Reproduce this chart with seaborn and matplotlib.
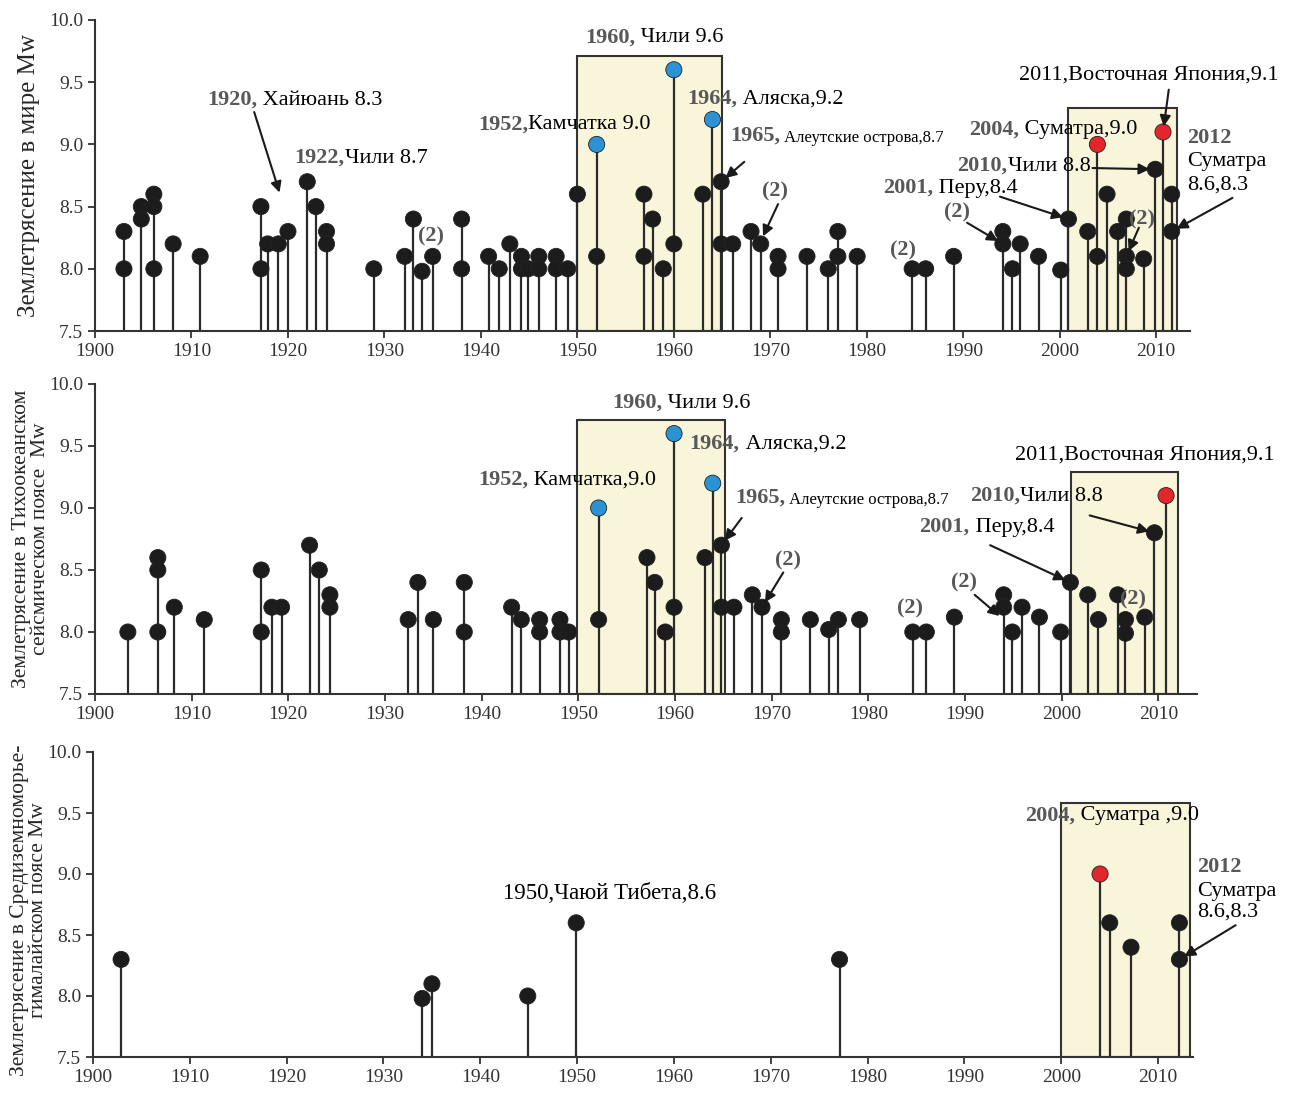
import matplotlib
matplotlib.use("Agg")
import matplotlib.pyplot as plt
import seaborn as sns
import pandas as pd

# ---- World: year of event, magnitude Mw ----
world_years = [1903.0, 1903.0, 1904.8, 1904.8, 1906.1, 1906.1, 1906.1, 1908.1, 1910.9,
               1917.2, 1917.2, 1917.9, 1919.0, 1920.0, 1922.0, 1922.9, 1924.0, 1924.0,
               1928.9, 1932.1, 1933.0, 1933.9, 1935.0, 1938.0, 1938.0, 1940.8, 1941.9,
               1943.0, 1944.2, 1944.2, 1944.9, 1946.0, 1946.0, 1947.8, 1947.8, 1949.0,
               1950.0, 1952.0, 1952.0, 1956.9, 1956.9, 1957.8, 1958.9, 1960.0, 1960.0,
               1963.0, 1964.0, 1964.9, 1964.9, 1966.1, 1968.0, 1969.0, 1970.8, 1970.8,
               1973.8, 1976.0, 1977.0, 1977.0, 1979.0, 1984.7, 1986.1, 1989.0, 1994.1,
               1994.1, 1995.1, 1995.9, 1997.8, 2000.1, 2000.9, 2002.9, 2003.9, 2003.9,
               2004.9, 2006.0, 2006.9, 2006.9, 2006.9, 2008.7, 2009.9, 2010.7, 2011.6, 2011.6]
world_mw = [8.3, 8.0, 8.5, 8.4, 8.6, 8.5, 8.0, 8.2, 8.1,
            8.5, 8.0, 8.2, 8.2, 8.3, 8.7, 8.5, 8.3, 8.2,
            8.0, 8.1, 8.4, 7.98, 8.1, 8.4, 8.0, 8.1, 8.0,
            8.2, 8.1, 8.0, 8.0, 8.1, 8.0, 8.1, 8.0, 8.0,
            8.6, 9.0, 8.1, 8.6, 8.1, 8.4, 8.0, 9.6, 8.2,
            8.6, 9.2, 8.7, 8.2, 8.2, 8.3, 8.2, 8.1, 8.0,
            8.1, 8.0, 8.3, 8.1, 8.1, 8.0, 8.0, 8.1, 8.3,
            8.2, 8.0, 8.2, 8.1, 7.99, 8.4, 8.3, 9.0, 8.1,
            8.6, 8.3, 8.4, 8.1, 8.0, 8.08, 8.8, 9.1, 8.6, 8.3]

# ---- Pacific belt ----
pacific_years = [1903.4, 1906.5, 1906.5, 1906.5, 1908.2, 1911.3, 1917.2, 1917.2, 1918.3,
                 1919.3, 1922.2, 1923.2, 1924.3, 1924.3, 1932.4, 1933.4, 1935.0, 1938.2,
                 1938.2, 1943.1, 1944.1, 1946.0, 1946.0, 1948.1, 1948.1, 1949.0, 1952.1,
                 1952.1, 1957.1, 1957.9, 1959.0, 1959.9, 1959.9, 1963.1, 1963.9, 1964.8,
                 1964.8, 1966.1, 1968.0, 1969.0, 1971.0, 1971.0, 1974.0, 1975.9, 1976.9,
                 1979.1, 1984.6, 1986.0, 1988.9, 1994.0, 1994.0, 1994.9, 1995.9, 1997.7,
                 1999.9, 2000.9, 2002.7, 2003.8, 2005.8, 2006.6, 2006.6, 2008.6, 2009.6, 2010.8]
pacific_mw = [8.0, 8.6, 8.5, 8.0, 8.2, 8.1, 8.5, 8.0, 8.2,
              8.2, 8.7, 8.5, 8.3, 8.2, 8.1, 8.4, 8.1, 8.4,
              8.0, 8.2, 8.1, 8.1, 8.0, 8.1, 8.0, 8.0, 9.0,
              8.1, 8.6, 8.4, 8.0, 9.6, 8.2, 8.6, 9.2, 8.7,
              8.2, 8.2, 8.3, 8.2, 8.1, 8.0, 8.1, 8.02, 8.1,
              8.1, 8.0, 8.0, 8.12, 8.3, 8.2, 8.0, 8.2, 8.12,
              8.0, 8.4, 8.3, 8.1, 8.3, 8.1, 7.99, 8.12, 8.8, 9.1]

# ---- Mediterranean-Himalayan belt ----
medit_years = [1902.9, 1934.0, 1935.0, 1944.9, 1949.9, 1977.1, 2004.0, 2005.0, 2007.2, 2012.2, 2012.2]
medit_mw = [8.3, 7.98, 8.1, 8.0, 8.6, 8.3, 9.0, 8.6, 8.4, 8.6, 8.3]

x_ticks = [1900, 1910, 1920, 1930, 1940, 1950, 1960, 1970, 1980, 1990, 2000, 2010]
y_ticks = [7.5, 8.0, 8.5, 9.0, 9.5, 10.0]

palette = {"black": "#1c1c1c", "blue": "#2b93d3", "red": "#e3262b"}
BOX = "#f8f5da"
GREY = "#585858"
FS = 16

sns.set_style("ticks")
plt.rcParams["font.family"] = ["Liberation Serif", "DejaVu Serif"]

W, H = 1300, 1097
fig = plt.figure(figsize=(W / 100, H / 100), dpi=100)


def pos(left, right, top, bottom):
    return [left / W, 1 - bottom / H, (right - left) / W, (bottom - top) / H]


def stems(ax, years, mw, xmax):
    df = pd.DataFrame({"year": years, "mw": mw})
    df["kind"] = "black"
    df.loc[(df.mw >= 9.0) & (df.year < 1980), "kind"] = "blue"
    df.loc[(df.mw >= 9.0) & (df.year > 1980), "kind"] = "red"
    top = df.groupby("year")["mw"].max()
    ax.vlines(top.index, 7.5, top.values, color="#2a2a2a", lw=1.6, zorder=2)
    sns.scatterplot(data=df, x="year", y="mw", hue="kind", palette=palette, s=135,
                    edgecolor="#222222", linewidth=0.6, legend=False, zorder=3, ax=ax)
    ax.set_xlim(1900, xmax)
    ax.set_ylim(7.5, 10.0)
    ax.set_xticks(x_ticks)
    ax.set_yticks(y_ticks)
    ax.set_yticklabels([f"{v:.1f}" for v in y_ticks])
    ax.set_xlabel("")
    ax.tick_params(labelsize=14, length=5, width=1.3, colors="#333333")
    for s in ("left", "bottom"):
        ax.spines[s].set_linewidth(1.5)
        ax.spines[s].set_color("#333333")
    sns.despine(ax=ax)


def box(ax, x0, x1, ytop):
    ax.axvspan(x0, x1, ymin=0, ymax=(ytop - 7.5) / 2.5, facecolor=BOX,
               edgecolor="#333333", lw=1.5, zorder=0)


def note(ax, x, y, head, rest="", size=FS, rest_size=None, bold=True):
    t = ax.text(x, y, head, fontsize=size, fontweight="bold" if bold else "normal",
                color=GREY if bold else "black", va="center", ha="left", clip_on=False)
    if rest:
        ax.annotate(rest, xy=(1, 0), xycoords=t, va="bottom", ha="left",
                    fontsize=rest_size or size, color="black", annotation_clip=False)


def arrow(ax, tail, head):
    ax.annotate("", xy=head, xytext=tail, annotation_clip=False,
                arrowprops=dict(arrowstyle="-|>", color="#1a1a1a", lw=1.5,
                                mutation_scale=16, shrinkA=0, shrinkB=4))


# ---------------- top: world ----------------
ax1 = fig.add_axes(pos(95, 1190, 20, 331))
box(ax1, 1950.0, 1965.0, 9.71)
box(ax1, 2000.9, 2012.2, 9.29)
stems(ax1, world_years, world_mw, 2013.5)
ax1.set_ylabel("Землетрясение в мире Mw", fontsize=18)
ax1.yaxis.set_label_coords(-0.050, 0.5)

note(ax1, 1950.8, 9.86, "1960,", " Чили 9.6")
note(ax1, 1911.6, 9.36, "1920,", " Хайюань 8.3")
arrow(ax1, (1916.5, 9.26), (1919.3, 8.57))
note(ax1, 1920.7, 8.89, "1922,", "Чили 8.7")
note(ax1, 1939.7, 9.16, "1952,", "Камчатка 9.0")
note(ax1, 1961.4, 9.37, "1964,", " Аляска,9.2")
note(ax1, 1965.8, 9.07, "1965,", " Алеутские острова,8.7", rest_size=12)
arrow(ax1, (1967.3, 8.86), (1964.9, 8.7))
note(ax1, 1969.1, 8.62, "(2)")
arrow(ax1, (1970.8, 8.52), (1969.0, 8.22))
note(ax1, 1933.5, 8.26, "(2)")
note(ax1, 1982.4, 8.15, "(2)")
note(ax1, 1995.8, 9.56, "2011,Восточная Япония,9.1", bold=False)
arrow(ax1, (2011.3, 9.44), (2010.7, 9.1))
note(ax1, 1990.6, 9.12, "2004,", " Суматра,9.0")
note(ax1, 1989.4, 8.83, "2010,", "Чили 8.8")
arrow(ax1, (2003.4, 8.81), (2009.9, 8.8))
note(ax1, 2013.2, 9.05, "2012")
note(ax1, 2013.2, 8.86, "Суматра", bold=False)
note(ax1, 2013.2, 8.67, "8.6,8.3", bold=False)
arrow(ax1, (2017.9, 8.57), (2011.6, 8.3))
note(ax1, 1981.7, 8.65, "2001,", " Перу,8.4")
arrow(ax1, (1993.8, 8.58), (2000.9, 8.4))
note(ax1, 1988.0, 8.45, "(2)")
arrow(ax1, (1990.4, 8.37), (1994.1, 8.2))
note(ax1, 2007.2, 8.40, "(2)")
arrow(ax1, (2008.2, 8.33), (2006.9, 8.1))

# ---------------- middle: Pacific ----------------
ax2 = fig.add_axes(pos(95, 1197, 384, 694))
box(ax2, 1949.9, 1965.2, 9.71)
box(ax2, 2001.0, 2012.0, 9.29)
stems(ax2, pacific_years, pacific_mw, 2014.0)
ax2.set_ylabel("Землетрясение в Тихоокеанском\nсейсмическом поясе  Mw", fontsize=15.5,
               linespacing=1.0)
ax2.yaxis.set_label_coords(-0.041, 0.5)

note(ax2, 1953.5, 9.85, "1960,", " Чили 9.6")
note(ax2, 1939.6, 9.23, "1952,", " Камчатка,9.0")
note(ax2, 1961.5, 9.52, "1964,", " Аляска,9.2")
note(ax2, 1966.2, 9.08, "1965,", " Алеутские острова,8.7", rest_size=12)
arrow(ax2, (1966.9, 8.92), (1964.8, 8.7))
note(ax2, 1970.3, 8.58, "(2)")
arrow(ax2, (1971.2, 8.48), (1969.0, 8.2))
note(ax2, 1995.2, 9.43, "2011,Восточная Япония,9.1", bold=False)
note(ax2, 1990.5, 9.10, "2010,", "Чили 8.8")
arrow(ax2, (2002.9, 8.94), (2009.6, 8.8))
note(ax2, 1985.3, 8.85, "2001,", " Перу,8.4")
arrow(ax2, (1992.6, 8.70), (2000.9, 8.4))
note(ax2, 1988.5, 8.40, "(2)")
arrow(ax2, (1991.0, 8.30), (1994.0, 8.1))
note(ax2, 1983.0, 8.19, "(2)")
note(ax2, 2006.0, 8.26, "(2)")

# ---------------- bottom: Mediterranean-Himalayan ----------------
ax3 = fig.add_axes(pos(93, 1193, 752, 1057))
box(ax3, 2000.0, 2013.3, 9.58)
stems(ax3, medit_years, medit_mw, 2013.6)
ax3.set_ylabel("Землетрясение в Средиземноморье-\nгималайском поясе Mw", fontsize=15.5,
               linespacing=1.0)
ax3.yaxis.set_label_coords(-0.041, 0.48)

note(ax3, 1996.3, 9.48, "2004,", " Суматра ,9.0")
note(ax3, 1942.3, 8.84, "1950,Чаюй Тибета,8.6", bold=False, size=16.5)
note(ax3, 2014.0, 9.06, "2012")
note(ax3, 2014.0, 8.86, "Суматра", bold=False)
note(ax3, 2014.0, 8.69, "8.6,8.3", bold=False)
arrow(ax3, (2018.0, 8.58), (2012.2, 8.3))

fig.savefig("out.png", dpi=100)
